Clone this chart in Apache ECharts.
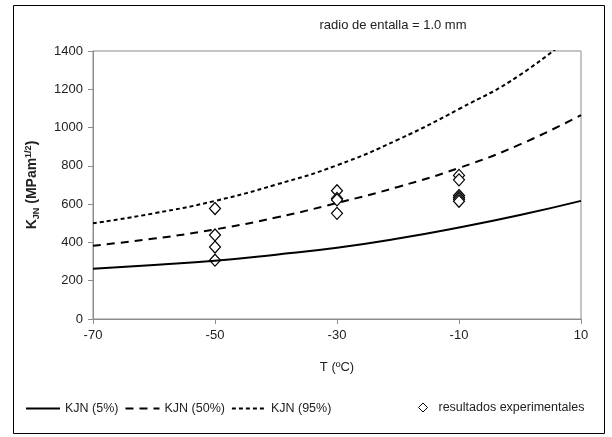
<!DOCTYPE html>
<html>
<head>
<meta charset="utf-8">
<script src="https://cdn.jsdelivr.net/npm/echarts@6/dist/echarts.min.js"></script>
<style>
html, body { margin: 0; padding: 0; background: #fff; }
#chart { width: 612px; height: 437px; }
</style>
</head>
<body>
<div id="chart"></div>
<script>
var temps = [-70, -60, -50, -40, -30, -20, -10, 0, 10];
var kjn5 = [262, 282, 304, 336, 372, 420, 478, 543, 617];
var kjn50 = [383, 420, 468, 530, 606, 690, 789, 912, 1065];
var kjn95 = [500, 552, 617, 702, 803, 937, 1097, 1275, 1520];
var expT = [-50, -50, -50, -50, -30, -30, -30, -30, -10, -10, -10, -10, -10, -10];
var expK = [577, 439, 376, 307, 670, 630, 622, 552, 750, 727, 645, 635, 625, 615];

function pairs(xs, ys) {
    var out = [];
    for (var i = 0; i < xs.length; i++) {
        out.push([xs[i], ys[i]]);
    }
    return out;
}

var font = "Liberation Sans";
var txt = "#222";
var noDot = { color: "rgba(0,0,0,0)", borderColor: "rgba(0,0,0,0)", borderWidth: 0 };

var option = {
    animation: false,
    textStyle: { fontFamily: font },
    title: {
        text: "radio de entalla = 1.0 mm",
        left: 388,
        top: 14,
        textAlign: "center",
        textStyle: { fontSize: 13, fontWeight: "normal", color: txt, fontFamily: font }
    },
    grid: {
        left: 93, right: 31, top: 51, bottom: 118,
        show: true, borderColor: "#8c8c8c", borderWidth: 1
    },
    legend: [{
        bottom: 17,
        left: 20,
        itemGap: 6,
        itemWidth: 34,
        itemHeight: 10,
        textStyle: { fontSize: 12.5, color: txt, fontFamily: font },
        data: [
            { name: "KJN (5%)", itemStyle: noDot },
            { name: "KJN (50%)", itemStyle: noDot },
            { name: "KJN (95%)", itemStyle: noDot }
        ]
    },
    {
        bottom: 18,
        left: 413,
        itemWidth: 9,
        itemHeight: 9,
        itemStyle: { borderWidth: 1 },
        textStyle: { fontSize: 12.5, color: txt, fontFamily: font, padding: [0, 0, 0, 6] },
        data: ["resultados experimentales"]
    }],
    xAxis: {
        type: "value",
        min: -70, max: 10, interval: 20,
        name: "T (ºC)",
        nameLocation: "middle",
        nameGap: 42,
        nameTextStyle: { fontSize: 13, color: txt },
        axisLine: { show: true, onZero: false, lineStyle: { color: "#8c8c8c" } },
        axisTick: { show: true, length: 5, lineStyle: { color: "#8c8c8c" } },
        axisLabel: { fontSize: 13, color: txt, margin: 10 },
        splitLine: { show: false }
    },
    yAxis: {
        type: "value",
        min: 0, max: 1400, interval: 200,
        name: "{b|K}{sub|JN}{b| (MPam}{sup|1/2}{b|)}",
        nameLocation: "middle",
        nameGap: 52,
        nameTextStyle: {
            rich: {
                b: { fontSize: 14, fontWeight: "bold", color: txt, fontFamily: font },
                sub: { fontSize: 9, fontWeight: "bold", color: txt, fontFamily: font, verticalAlign: "bottom", padding: [6, 0, 0, 0] },
                sup: { fontSize: 9, fontWeight: "bold", color: txt, fontFamily: font, verticalAlign: "top", padding: [0, 0, 8, 0] }
            }
        },
        axisLine: { show: true, onZero: false, lineStyle: { color: "#8c8c8c" } },
        axisTick: { show: true, length: 5, lineStyle: { color: "#8c8c8c" } },
        axisLabel: { fontSize: 13, color: txt, margin: 10, formatter: function(v) { return String(v); } },
        splitLine: { show: false }
    },
    graphic: [{
        type: "rect",
        shape: { x: 13.5, y: 5.5, width: 591, height: 428 },
        style: { fill: "none", stroke: "#000", lineWidth: 1 },
        silent: true
    }],
    series: [{
        name: "KJN (5%)",
        type: "line",
        smooth: true,
        symbol: "none",
        data: pairs(temps, kjn5),
        lineStyle: { color: "#000", width: 2, type: "solid" },
        itemStyle: { color: "#000" }
    },
    {
        name: "KJN (50%)",
        type: "line",
        smooth: true,
        symbol: "none",
        data: pairs(temps, kjn50),
        lineStyle: { color: "#000", width: 2, type: [8, 6] },
        itemStyle: { color: "#000" }
    },
    {
        name: "KJN (95%)",
        type: "line",
        smooth: true,
        symbol: "none",
        data: pairs(temps, kjn95),
        lineStyle: { color: "#000", width: 2, type: [4, 3] },
        itemStyle: { color: "#000" }
    },
    {
        name: "resultados experimentales",
        type: "scatter",
        symbol: "diamond",
        symbolSize: [11, 12],
        data: pairs(expT, expK),
        itemStyle: { color: "#fff", borderColor: "#000", borderWidth: 1.2, opacity: 1 }
    }]
};

var myChart = echarts.init(document.getElementById("chart"));
myChart.setOption(option);
</script>
</body>
</html>
